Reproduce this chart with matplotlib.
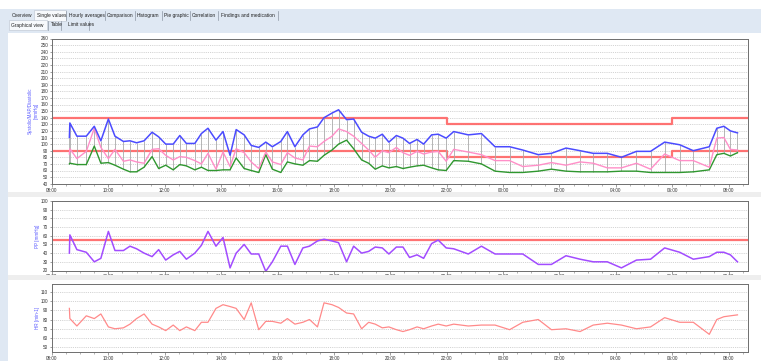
import matplotlib
matplotlib.use("Agg")
import matplotlib.pyplot as plt
from matplotlib.patches import Rectangle
from matplotlib.lines import Line2D

plt.rcParams['font.family'] = ['Liberation Sans', 'DejaVu Sans']

W, H = 761, 361

# ---- measurement series ----
times = [
    "08:37", "08:38", "08:53", "09:13", "09:30", "09:44", "10:00", "10:14", "10:32", "10:46",
    "11:00", "11:16", "11:33", "11:47", "12:02", "12:18", "12:32", "12:46", "13:04", "13:18",
    "13:32", "13:49", "14:04", "14:19", "14:32", "14:49", "15:04", "15:20", "15:35", "15:49",
    "16:07", "16:21", "16:37", "16:54", "17:08", "17:25", "17:39", "17:56", "18:10", "18:27",
    "18:42", "18:59", "19:14", "19:28", "19:43", "19:57", "20:13", "20:27", "20:41", "20:57",
    "21:11", "21:28", "21:42", "21:59", "22:15", "22:46", "23:14", "23:43", "00:14", "00:42",
    "01:15", "01:43", "02:14", "02:44", "03:12", "03:42", "04:12", "04:44", "05:14", "05:44",
    "06:16", "06:45", "07:19", "07:35", "07:50", "08:04", "08:19",
]

systolic = [
    110, 132, 112, 112, 127, 105, 138, 112, 104, 105,
    102, 105, 118, 111, 100, 100, 113, 101, 101, 116,
    124, 106, 119, 83, 122, 114, 98, 95, 103, 96,
    104, 119, 96, 114, 123, 126, 140, 147, 152, 137,
    138, 118, 112, 109, 115, 103, 113, 109, 101, 107,
    100, 114, 115, 109, 119, 114, 116, 96, 96, 91,
    84, 86, 94, 90, 86, 86, 80, 89, 89, 103,
    99, 90, 96, 124, 127, 120, 117,
]

mean_ap = [
    85, 93, 78, 89, 124, 95, 78, 92, 74, 76,
    73, 71, 92, 93, 83, 76, 81, 80, 75, 70,
    86, 62, 88, 66, 93, 87, 73, 63, 88, 73,
    69, 87, 79, 76, 97, 96, 104, 112, 123, 119,
    112, 101, 91, 80, 90, 87, 95, 87, 83, 89,
    85, 88, 89, 74, 92, 88, 84, 75, 75, 66,
    68, 72, 68, 73, 71, 64, 64, 71, 62, 85,
    75, 75, 65, 109, 110, 92, 91,
]

diastolic = [
    70, 71, 69, 69, 97, 71, 72, 68, 62, 58,
    58, 65, 81, 63, 68, 61, 69, 67, 61, 65,
    60, 60, 61, 61, 79, 63, 60, 57, 84, 62,
    57, 73, 70, 68, 75, 74, 83, 91, 100, 106,
    93, 76, 71, 62, 67, 64, 66, 63, 65, 67,
    68, 64, 61, 60, 75, 74, 70, 59, 57, 57,
    59, 62, 59, 58, 58, 58, 59, 59, 57, 57,
    57, 58, 61, 84, 86, 82, 87,
]

pulse_pressure = [
    40, 61, 44, 41, 30, 34, 65, 43, 43, 48,
    45, 40, 36, 44, 32, 38, 42, 33, 40, 49,
    65, 48, 58, 23, 40, 50, 39, 39, 19, 30,
    48, 48, 27, 46, 48, 54, 56, 54, 52, 30,
    48, 40, 42, 47, 46, 39, 47, 47, 35, 38,
    34, 51, 55, 46, 45, 39, 48, 39, 39, 39,
    27, 27, 37, 33, 30, 30, 23, 32, 33, 46,
    41, 33, 36, 41, 41, 38, 30,
]

heart_rate = [
    92, 81, 73, 84, 81, 86, 72, 70, 71, 75,
    81, 86, 75, 72, 68, 74, 68, 72, 68, 77,
    77, 92, 96, 94, 92, 80, 98, 69, 78, 78,
    76, 81, 75, 77, 80, 72, 98, 96, 93, 87,
    86, 70, 77, 75, 71, 72, 69, 67, 69, 72,
    70, 73, 75, 73, 75, 73, 74, 74, 69, 77,
    80, 69, 70, 67, 74, 76, 74, 70, 72, 82,
    77, 77, 64, 80, 83, 84, 85,
]

# day / night limit values
limit_start = ["08:00", "22:00", "06:00"]
sys_limit = [140, 130, 140]
dia_limit = [90, 80, 90]
pp_limit = 55

hour_labels = ["08:00", "10:00", "12:00", "14:00", "16:00", "18:00", "20:00",
               "22:00", "00:00", "02:00", "04:00", "06:00", "08:00"]

tabs_main = ["Overview", "Single values", "Hourly averages", "Comparison",
             "Histogram", "Pie graphic", "Correlation", "Findings and medication"]
tabs_sub = ["Graphical view", "Table", "Limit values"]


def to_hours(labels):
    """Clock times -> hours elapsed since 08:00 of the first day."""
    out, day = [], 0
    for lab in labels:
        h, m = (int(p) for p in lab.split(":"))
        v = h + m / 60 + 24 * day - 8
        if out and v < out[-1]:
            day += 1
            v += 24
        out.append(v)
    return out


t = to_hours(times)
tick_pos = to_hours(hour_labels)
lim_t = to_hours(limit_start)
X_END = 24.69

C_SYS = "#4b4bff"
C_MAP = "#ff8fc8"
C_DIA = "#2f972f"
C_LIM = "#ff6464"
C_PP = "#a24cff"
C_HR = "#ff8a8a"
C_LAB = "#5a5aff"
FS = 3.3

fig = plt.figure(figsize=(W / 100, H / 100), dpi=100)
fig.patch.set_facecolor("white")


def fx(px):
    return px / W


def fy(py):
    return 1 - py / H


def add_axes(top, bottom, left=52, right=748):
    return fig.add_axes([fx(left), fy(bottom), fx(right - left), fy(top) - fy(bottom)])


# window chrome: tab band and left margin
fig.patches.append(Rectangle((0, fy(33)), 1, fy(9) - fy(33), transform=fig.transFigure,
                             facecolor="#dfe8f3", edgecolor="none", zorder=0))
fig.patches.append(Rectangle((0, 0), fx(8), fy(33), transform=fig.transFigure,
                             facecolor="#dfe8f3", edgecolor="none", zorder=0))
fig.patches.append(Rectangle((fx(34), fy(21)), fx(32), fy(10) - fy(21), transform=fig.transFigure,
                             facecolor="#f7f9fc", edgecolor="#b9c3cf", lw=0.4, zorder=1))
fig.patches.append(Rectangle((fx(9), fy(30)), fx(38), fy(20) - fy(30), transform=fig.transFigure,
                             facecolor="#f7f9fc", edgecolor="#b9c3cf", lw=0.4, zorder=1))

tab_x = [12, 37, 69, 107, 137, 164, 192, 221]
tab_sep = [66, 105, 135, 162, 190, 218, 278]
for x, lab in zip(tab_x, tabs_main):
    fig.text(fx(x), fy(15.8), lab, fontsize=3.5, color="#222222", va="center", ha="left")
for x in tab_sep:
    fig.add_artist(Line2D([fx(x), fx(x)], [fy(11), fy(20)], transform=fig.transFigure,
                          color="#8c96a3", lw=0.5))
sub_x = [11, 51, 68]
sub_sep = [48, 61, 89]
for x, lab in zip(sub_x, tabs_sub):
    fig.text(fx(x), fy(25), lab, fontsize=3.5, color="#222222", va="center", ha="left")
for x in sub_sep:
    fig.add_artist(Line2D([fx(x), fx(x)], [fy(21), fy(30)], transform=fig.transFigure,
                          color="#8c96a3", lw=0.5))

# panel separators
for y0, y1 in [(192, 197), (275, 280)]:
    fig.patches.append(Rectangle((fx(8), fy(y1)), 1 - fx(8), fy(y0) - fy(y1),
                                 transform=fig.transFigure, facecolor="#eeeeee",
                                 edgecolor="none", zorder=0))


def style(ax, ylo, yhi, yticks):
    ax.set_xlim(0, X_END)
    ax.set_ylim(ylo, yhi)
    ax.set_yticks(yticks)
    ax.set_yticklabels([str(v) for v in yticks])
    ax.set_xticks(tick_pos)
    ax.set_xticklabels(hour_labels)
    ax.set_xticks([i * 0.5 for i in range(int(X_END * 2) + 1)], minor=True)
    ax.tick_params(axis="both", which="major", labelsize=FS, length=1.8, width=0.4,
                   pad=1, colors="#555555", labelcolor="#333333")
    ax.tick_params(axis="x", which="minor", length=1.2, width=0.4, colors="#777777")
    for s in ax.spines.values():
        s.set_color("#6e6e6e")
        s.set_linewidth(0.7)
    ax.yaxis.grid(True, color="#b8b8b8", lw=0.5, ls=(0, (1.2, 1.5)))
    ax.set_axisbelow(True)


def limit_steps(levels):
    xs = list(lim_t) + [X_END]
    ys = list(levels) + [levels[-1]]
    return xs, ys


# ---- blood pressure panel ----
ax1 = add_axes(38.5, 183.7)
style(ax1, 40, 260, list(range(40, 261, 10)))
for lv in (sys_limit, dia_limit):
    xs, ys = limit_steps(lv)
    ax1.step(xs, ys, where="post", color=C_LIM, lw=1.6, alpha=0.9, zorder=2)
ax1.vlines(t, diastolic, systolic, color="#a9a9a9", lw=0.6, zorder=3)
ax1.plot(t, diastolic, color=C_DIA, lw=1.0, zorder=4)
ax1.plot(t, mean_ap, color=C_MAP, lw=1.0, zorder=5)
ax1.plot(t, systolic, color=C_SYS, lw=1.1, zorder=6)
fig.text(fx(33), fy(111), "Systolic/MAP/Diastolic\n[mmHg]", rotation=90, fontsize=FS,
         color=C_LAB, ha="center", va="center", linespacing=1.1)

# ---- pulse pressure panel ----
ax2 = add_axes(201, 270.5)
style(ax2, 20, 100, list(range(20, 101, 10)))
ax2.axhline(pp_limit, color=C_LIM, lw=1.6, alpha=0.9, zorder=2)
ax2.plot(t, pulse_pressure, color=C_PP, lw=1.1, zorder=4)
fig.text(fx(37), fy(236), "PP [mmHg]", rotation=90, fontsize=FS, color=C_LAB,
         ha="center", va="center")

# ---- heart rate panel ----
ax3 = add_axes(284.3, 352.3)
style(ax3, 44.6, 118, list(range(50, 111, 10)))
ax3.plot(t, heart_rate, color=C_HR, lw=0.9, zorder=4)
fig.text(fx(37), fy(318), "HR [min-1]", rotation=90, fontsize=FS, color=C_LAB,
         ha="center", va="center")

fig.savefig("out.png", dpi=100, facecolor=fig.get_facecolor())
